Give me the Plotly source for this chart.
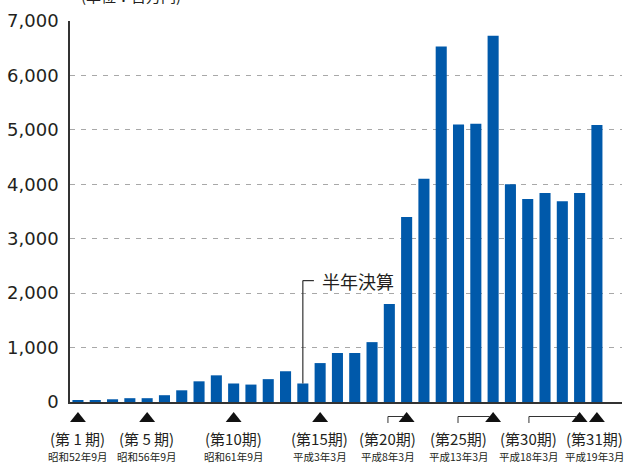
import plotly.graph_objects as go

# ---- data ----
periods = list(range(1, 32))
profits = [20, 35, 50, 70, 70, 125, 215, 380, 490, 340, 320, 420, 565, 340, 715,
           900, 900, 1100, 1800, 3400, 4100, 6530, 5100, 5110, 6730, 4000, 3730,
           3840, 3690, 3840, 5090]
y_ticks = [0, 1000, 2000, 3000, 4000, 5000, 6000, 7000]
y_tick_labels = ["0", "1,000", "2,000", "3,000", "4,000", "5,000", "6,000", "7,000"]
marked_periods = [1, 5, 10, 15, 20, 25, 30, 31]
period_labels = ["(第 1 期)", "(第 5 期)", "(第10期)", "(第15期)", "(第20期)",
                 "(第25期)", "(第30期)", "(第31期)"]
date_labels = ["昭和52年9月", "昭和56年9月", "昭和61年9月", "平成3年3月", "平成8年3月",
               "平成13年3月", "平成18年3月", "平成19年3月"]
half_year_period = 14
half_year_label = "半年決算"
unit_label = "(単位：百万円)"

# ---- layout helpers (label placement, not data) ----
label_x = [1, 4.99, 10.02, 14.99, 18.92, 22.97, 27.07, 30.85]
connector_idx = [4, 5, 6]

BAR = "#0059AA"
TXT = "#231f20"
CJK = "Noto Sans CJK JP"
PLOT_H = 464 - 21 - 62


def py(px_below):
    """paper y for a distance in pixels below the x axis"""
    return -px_below / PLOT_H


fig = go.Figure()
fig.add_trace(go.Bar(x=periods, y=profits, marker_color=BAR, width=0.64,
                     marker_line_width=0, hoverinfo="skip"))

annotations = []
for lx, pl, dl in zip(label_x, period_labels, date_labels):
    annotations.append(dict(x=lx, y=0, xref="x", yref="paper", yanchor="middle",
                            yshift=-36, text=pl, showarrow=False,
                            font=dict(family=CJK, size=15, color=TXT)))
    annotations.append(dict(x=lx, y=0, xref="x", yref="paper", yanchor="middle",
                            yshift=-54, text=dl, showarrow=False,
                            font=dict(family=CJK, size=10.5, color=TXT)))
annotations.append(dict(x=half_year_period + 0.99, y=2230, xref="x", yref="y",
                        text=half_year_label, showarrow=False, xanchor="left",
                        font=dict(family=CJK, size=18, color=TXT)))
annotations.append(dict(x=0.016, y=1, xref="paper", yref="paper", text=unit_label,
                        showarrow=False, xanchor="left", yanchor="bottom", yshift=13,
                        font=dict(family=CJK, size=15, color=TXT)))

shapes = []
# triangles under marked periods
tri_half = 0.46
for p in marked_periods:
    path = "M {a},{yb} L {b},{yb} L {c},{yt} Z".format(
        a=p - tri_half, b=p + tri_half, c=p, yb=py(20), yt=py(10))
    shapes.append(dict(type="path", xref="x", yref="paper", path=path,
                       fillcolor="#111", line=dict(width=0)))
for i in connector_idx:
    lx = label_x[i]
    tx = marked_periods[i]
    shapes.append(dict(type="line", xref="x", yref="paper", x0=lx, x1=lx,
                       y0=py(21), y1=py(14.5), line=dict(color="#333", width=1)))
    shapes.append(dict(type="line", xref="x", yref="paper", x0=lx, x1=tx - 0.2,
                       y0=py(14.5), y1=py(14.5), line=dict(color="#333", width=1)))
hy = profits[half_year_period - 1]
shapes.append(dict(type="line", xref="x", yref="y", x0=half_year_period, x1=half_year_period,
                   y0=hy, y1=2230, line=dict(color="#333", width=1.2)))
shapes.append(dict(type="line", xref="x", yref="y", x0=half_year_period,
                   x1=half_year_period + 0.64, y0=2230, y1=2230,
                   line=dict(color="#333", width=1.2)))

fig.update_layout(
    width=625, height=464,
    margin=dict(l=70, r=3, t=21, b=62),
    paper_bgcolor="white", plot_bgcolor="white",
    showlegend=False,
    annotations=annotations,
    shapes=shapes,
    xaxis=dict(range=[0.54, 32.45], showticklabels=False, showgrid=False, zeroline=False,
               showline=True, linecolor="#333", linewidth=1.5, ticks=""),
    yaxis=dict(range=[0, 7000], tickvals=y_ticks, ticktext=y_tick_labels,
               showgrid=True, gridcolor="#a8a8a8", gridwidth=1, griddash="5px,6px",
               zeroline=False, showline=True, linecolor="#333", linewidth=1.5,
               ticks="", ticklabelstandoff=6,
               tickfont=dict(family="DejaVu Sans", size=18, color=TXT)),
)

fig.write_html("out.html")
